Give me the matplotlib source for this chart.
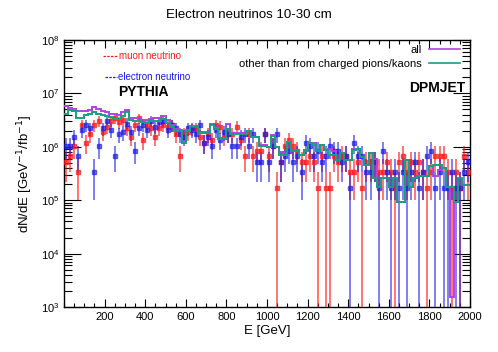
import numpy as np
import matplotlib
matplotlib.use('Agg')
import matplotlib.pyplot as plt
from matplotlib.ticker import MultipleLocator, LogLocator, NullFormatter
from matplotlib.lines import Line2D

plt.rcParams['font.family'] = ['Liberation Sans', 'DejaVu Sans']

# 20 GeV bins from 0 to 2000 GeV
bin_width = 20
e_min, e_max = 0, 2000

# DPMJET histograms, in units of 1e6 per GeV per fb^-1
all_vals = [5.8, 5.3, 5.1, 4.6, 4.6, 4.7, 4.9, 5.6, 5.0, 4.7,
            4.4, 4.1, 4.1, 4.0, 4.4, 4.8, 3.5, 3.4, 3.4, 3.2,
            3.2, 3.3, 3.5, 3.5, 3.7, 3.2, 2.6, 2.2, 2.1, 1.3,
            2.1, 2.5, 2.5, 1.9, 1.9, 1.9, 2.7, 2.3, 1.45, 1.45,
            2.7, 1.8, 1.8, 1.8, 1.8, 2.0, 1.55, 1.55, 1.08, 1.08,
            1.0, 1.66, 1.0, 0.81, 0.75, 1.25, 0.87, 0.87, 0.70, 0.87,
            1.16, 1.16, 0.87, 1.08, 0.87, 0.9, 0.85, 0.57, 0.75, 0.57,
            0.57, 0.9, 0.9, 0.65, 0.46, 0.75, 0.58, 0.18, 0.26, 0.26,
            0.18, 0.26, 0.093, 0.093, 0.57, 0.18, 0.26, 0.28, 0.28, 0.28,
            0.43, 0.28, 0.37, 0.40, 0.18, 0.00155, 0.093, 0.26, 0.19, 0.19]

other_vals = [4.1, 4.9, 4.6, 3.4, 3.4, 3.9, 4.2, 4.5, 4.2, 4.0,
              3.8, 3.6, 3.3, 3.3, 3.8, 4.5, 3.2, 3.0, 3.1, 2.9,
              2.8, 3.0, 3.1, 3.1, 3.3, 2.8, 2.3, 2.0, 2.0, 1.16,
              2.0, 2.4, 2.4, 1.85, 1.85, 1.85, 2.6, 2.2, 1.4, 1.4,
              2.2, 1.75, 1.75, 1.75, 1.75, 2.0, 1.55, 1.5, 1.05, 1.05,
              1.0, 1.6, 1.0, 0.70, 0.70, 1.25, 0.85, 0.85, 0.70, 0.85,
              1.16, 1.1, 0.85, 1.08, 0.87, 0.7, 0.7, 0.57, 0.75, 0.57,
              0.57, 0.87, 0.9, 0.65, 0.46, 0.75, 0.26, 0.18, 0.26, 0.26,
              0.18, 0.26, 0.093, 0.093, 0.57, 0.18, 0.26, 0.28, 0.28, 0.28,
              0.43, 0.46, 0.46, 0.40, 0.18, 0.18, 0.093, 0.26, 0.19, 0.19]

# PYTHIA event counts per bin (each event weighs the same)
event_weight = 1.7e5
muon_counts = [3, 4, 6, 2, 15, 7, 10, 15, 18, 11,
               14, 18, 20, 17, 19, 13, 9, 15, 20, 8,
               15, 13, 9, 13, 15, 14, 15, 10, 4, 10,
               11, 13, 13, 9, 7, 10, 8, 15, 14, 9,
               10, 10, 14, 8, 4, 10, 4, 5, 5, 10,
               4, 6, 1, 3, 6, 8, 6, 5, 3, 3,
               4, 3, 1, 4, 1, 1, 4, 3, 4, 4,
               2, 2, 3, 1, 3, 3, 3, 2, 2, 3,
               2, 1, 3, 4, 2, 3, 2, 3, 2, 1,
               2, 4, 4, 4, 2, 1, 2, 1, 4, 2]
elec_counts = [6, 6, 9, 4, 12, 15, 13, 2, 6, 13,
               18, 12, 4, 10, 11, 16, 11, 5, 13, 15,
               12, 18, 14, 17, 18, 12, 15, 13, 10, 9,
               13, 12, 10, 15, 7, 9, 6, 12, 8, 11,
               10, 6, 6, 9, 10, 6, 10, 3, 3, 10,
               3, 6, 10, 3, 4, 5, 3, 4, 2, 7,
               6, 4, 5, 3, 4, 6, 5, 5, 3, 4,
               1, 7, 4, 4, 2, 2, 3, 1, 5, 2,
               1, 2, 1, 2, 1, 2, 3, 1, 2, 4,
               5, 1, 2, 1, 1, 2, 1, 1, 2, 3]

edges = np.arange(e_min, e_max + bin_width, bin_width)
centers = edges[:-1] + bin_width / 2

W, H = 498, 352
fig = plt.figure(figsize=(W / 100, H / 100), dpi=100)
ax = fig.add_axes([64 / W, 45 / H, 406 / W, 267 / H])


def points(counts, color, alpha):
    n = np.array(counts, dtype=float)
    m = n > 0
    y = n[m] * event_weight
    err = np.sqrt(n[m]) * event_weight
    lo = np.minimum(err, y - 1e2)
    ax.errorbar(centers[m], y, yerr=[lo, err], fmt='s', ms=2.2, color=color,
                ecolor=color, elinewidth=1.2, alpha=alpha, capsize=0, zorder=3)


points(muon_counts, '#ff1a1a', 0.7)
points(elec_counts, '#1a1ae6', 0.65)

ax.stairs(np.array(all_vals) * 1e6, edges, baseline=None, color='#b540e0', lw=1.4, zorder=4)
ax.stairs(np.array(other_vals) * 1e6, edges, baseline=None, color='#1a9e82', lw=1.4, zorder=5)

ax.set_yscale('log')
ax.set_xlim(e_min, e_max)
ax.set_ylim(1e3, 1e8)
ax.set_xticks(range(200, 2001, 200))
ax.xaxis.set_minor_locator(MultipleLocator(50))
ax.yaxis.set_minor_locator(LogLocator(base=10, subs=np.arange(2, 10)))
ax.yaxis.set_minor_formatter(NullFormatter())
ax.tick_params(which='both', direction='in', top=True, right=True, labelsize=8)
ax.tick_params(axis='x', which='major', length=6, width=0.8)
ax.tick_params(axis='x', which='minor', length=3, width=0.8)
ax.tick_params(axis='y', which='major', length=12, width=0.8)
ax.tick_params(axis='y', which='minor', length=6, width=0.8)
for s in ax.spines.values():
    s.set_linewidth(1.0)

ax.set_xlabel('E [GeV]', fontsize=9.5, labelpad=2)
ax.set_ylabel('dN/dE [GeV$^{-1}$/fb$^{-1}$]', fontsize=9.5, labelpad=4)
fig.text(0.5, 1 - 15 / H, 'Electron neutrinos 10-30 cm', ha='center', va='center', fontsize=9.5)

# legend for histograms, handles after the text
handles = [Line2D([], [], color='#b540e0', lw=1.2), Line2D([], [], color='#1a9e82', lw=1.2)]
ax.legend(handles, ['all', 'other than from charged pions/kaons'], loc='upper right',
          bbox_to_anchor=(460 / W, 1 - 45 / H), bbox_transform=fig.transFigure,
          markerfirst=False, frameon=False, fontsize=8, handlelength=2.8,
          handletextpad=0.6, labelspacing=0.35, borderpad=0, borderaxespad=0)

narrow = ['Liberation Sans Narrow', 'Liberation Sans']
fig.add_artist(Line2D([103 / W, 117 / W], [1 - 56 / H] * 2, color='#ff1a1a', lw=0.9, ls=(0, (2, 1))))
fig.text(119 / W, 1 - 56 / H, 'muon neutrino', color='#ff1a1a', fontsize=7, va='center', family=narrow)
fig.add_artist(Line2D([105 / W, 117 / W], [1 - 77 / H] * 2, color='#1a1ae6', lw=0.9, ls=(0, (2, 1))))
fig.text(118 / W, 1 - 77 / H, 'electron neutrino', color='#1a1ae6', fontsize=7, va='center', family=narrow)

fig.text(118 / W, 1 - 92 / H, 'PYTHIA', fontsize=10, fontweight='bold', va='center')
fig.text(465 / W, 1 - 88 / H, 'DPMJET', fontsize=10, fontweight='bold', va='center', ha='right')

fig.savefig('out.png', dpi=100)
